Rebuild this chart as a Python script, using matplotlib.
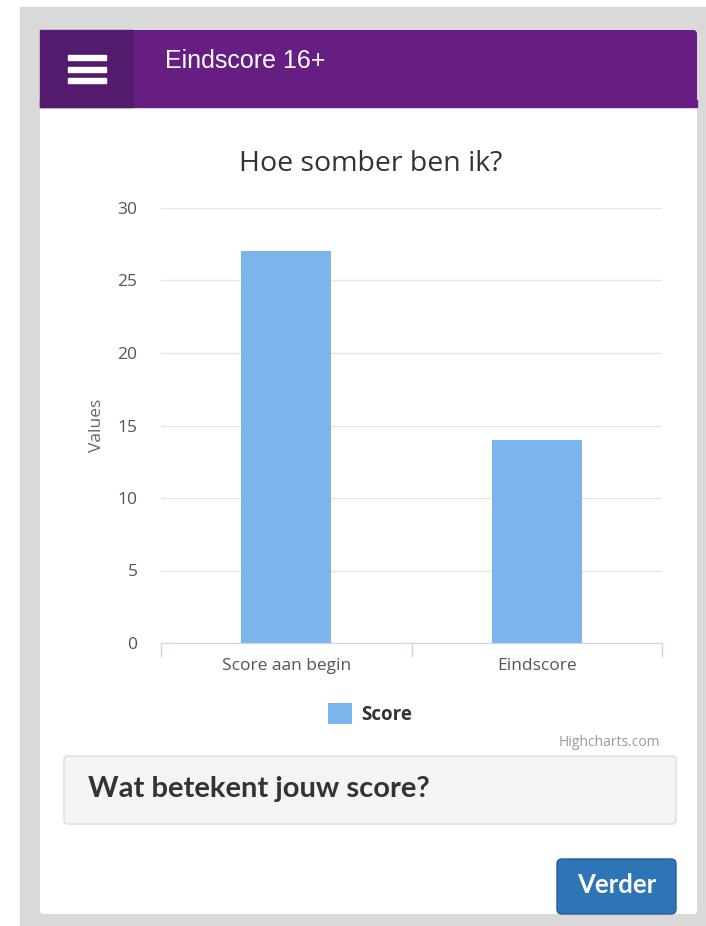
import matplotlib
matplotlib.use("Agg")
import matplotlib.pyplot as plt
from matplotlib.patches import Rectangle, FancyBboxPatch

# data
categories = ["Score aan begin", "Eindscore"]
scores = [27, 14]
series_name = "Score"
y_ticks = [0, 5, 10, 15, 20, 25, 30]

W, H = 706, 926
fig = plt.figure(figsize=(W / 100, H / 100), dpi=100, facecolor="white")

# page background, drawn in pixel coordinates
bg = fig.add_axes([0, 0, 1, 1])
bg.set_xlim(0, W)
bg.set_ylim(H, 0)
bg.axis("off")
bg.add_patch(Rectangle((20, 7), W - 20, H - 7, color="#d9d9d9", zorder=0))
bg.add_patch(FancyBboxPatch((40, 30), 657, 884, boxstyle="round,pad=0,rounding_size=4",
                            fc="white", ec="none", zorder=1))
bg.add_patch(FancyBboxPatch((40, 30), 657, 77, boxstyle="round,pad=0,rounding_size=4",
                            fc="#661e82", ec="none", zorder=2))
bg.add_patch(Rectangle((40, 100), 657, 7, color="#661e82", zorder=2))
bg.add_patch(Rectangle((40, 30), 93, 77, color="#541a6d", zorder=3))
for yy in (57.5, 69, 80.5):
    bg.add_patch(Rectangle((68, yy - 2.5), 38, 5, color="white", zorder=4))
bg.text(165, 61.5, "Eindscore 16+", color="white", fontsize=18, family="Liberation Sans",
        va="center", ha="left", zorder=4)
bg.text(371, 164, "Hoe somber ben ik?", color="#333333", fontsize=20.5, family="Open Sans",
        va="center", ha="center", zorder=4)
bg.text(660, 742, "Highcharts.com", color="#999999", fontsize=10, family="Open Sans",
        va="center", ha="right", zorder=4)

# info box
bg.add_patch(FancyBboxPatch((64, 756), 612, 68, boxstyle="round,pad=0,rounding_size=4",
                            fc="#f4f4f4", ec="#dddddd", lw=1, zorder=2))
bg.text(88, 789, "Wat betekent jouw score?", color="#333333", fontsize=21,
        family="Lato", weight="bold", va="center", ha="left", zorder=4)

# button
bg.add_patch(FancyBboxPatch((557, 859), 119, 55, boxstyle="round,pad=0,rounding_size=5",
                            fc="#2d75b6", ec="#245e93", lw=1, zorder=2))
bg.text(616.5, 885, "Verder", color="white", fontsize=18.5, family="Lato", weight="bold",
        va="center", ha="center", zorder=4)

# chart
ax = fig.add_axes([161 / W, 1 - 643 / H, 501 / W, 435 / H])
ax.set_facecolor("none")
x = list(range(len(categories)))
bars = ax.bar(x, scores, width=0.36, color="#7cb5ec", zorder=2, label=series_name)
ax.set_xlim(-0.5, len(categories) - 0.5)
ax.set_ylim(0, 30)
ax.set_yticks(y_ticks)
ax.grid(axis="y", color="#e6e6e6", lw=1, zorder=0)
for s in ("top", "right", "left"):
    ax.spines[s].set_visible(False)
ax.spines["bottom"].set_color("#ccd6eb")
ax.set_xticks(x)
ax.set_xticklabels(categories)
ax.set_xticks([i - 0.5 for i in range(len(categories) + 1)], minor=True)
ax.tick_params(axis="x", which="major", length=0, pad=11, labelsize=12.5, labelcolor="#555555")
ax.tick_params(axis="x", which="minor", length=10, color="#ccd6eb", width=1)
ax.tick_params(axis="y", length=0, pad=17, labelsize=12.5, labelcolor="#555555")
for lbl in ax.get_xticklabels() + ax.get_yticklabels():
    lbl.set_family("Open Sans")
ax.set_ylabel("Values", fontsize=12.5, color="#666666", family="Open Sans", labelpad=9)

leg = fig.legend(handles=[bars], labels=[series_name], loc="center",
                 bbox_to_anchor=(370 / W, 1 - 714 / H), frameon=False,
                 handlelength=1.3, handleheight=1.3, handletextpad=0.5,
                 prop={"family": "Open Sans", "weight": "bold", "size": 13.5})
for t in leg.get_texts():
    t.set_color("#333333")

fig.savefig("out.png", dpi=100)
